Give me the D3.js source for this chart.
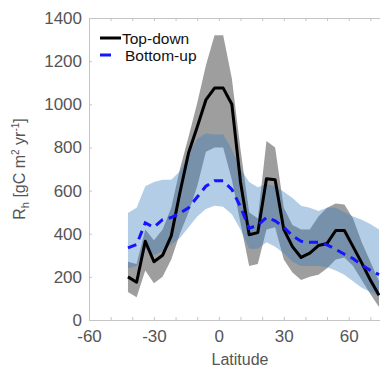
<!DOCTYPE html>
<html>
<head>
<meta charset="utf-8">
<script src="https://cdn.jsdelivr.net/npm/d3@7"></script>
<style>
  body { margin: 0; background: #fff; }
  svg { display: block; font-family: "Liberation Sans", Arial, sans-serif; }
  .axis path, .axis line { stroke: #c4c4c4; }
  .axis text { fill: #555; font-size: 17px; }
</style>
</head>
<body>
<div id="chart"></div>
<script>
// latitude bins (deg)
var lats = [-42, -38, -34, -30, -26, -22, -18, -14, -10, -6, -2, 2, 6, 10, 14,
            18, 22, 26, 30, 34, 38, 42, 46, 50, 54, 58, 62, 66, 70, 74];

// top-down Rh and its range
var topDown   = [200, 175, 365, 270, 300, 390, 590, 775, 895, 1020, 1075, 1075, 1000, 640, 395,
                 405, 655, 650, 420, 340, 290, 310, 345, 355, 415, 415, 340, 265, 185, 115];
var topDownLo = [130, 105, 230, 170, 200, 280, 400, 500, 620, 780, 800, 800, 650, 450, 250,
                 260, 420, 430, 280, 220, 185, 200, 210, 240, 280, 290, 250, 185, 120, 60];
var topDownHi = [270, 260, 420, 370, 420, 520, 700, 850, 1006, 1180, 1320, 1320, 1120, 790, 500,
                 470, 830, 800, 520, 440, 420, 420, 480, 520, 540, 535, 470, 360, 270, 180];

// bottom-up Rh and its range
var bottomUp   = [334, 350, 450, 430, 465, 475, 495, 520, 570, 620, 645, 645, 605, 525, 425,
                  440, 475, 460, 430, 390, 365, 360, 360, 348, 328, 305, 285, 255, 230, 210];
var bottomUpLo = [240, 250, 330, 300, 320, 350, 380, 430, 480, 515, 530, 525, 490, 420, 330,
                  330, 360, 340, 310, 270, 250, 250, 250, 245, 230, 210, 180, 150, 130, 110];
var bottomUpHi = [496, 520, 620, 640, 650, 650, 690, 770, 840, 865, 860, 860, 790, 700, 640,
                  615, 630, 620, 595, 565, 530, 520, 505, 520, 520, 500, 480, 465, 445, 420];

var xTicks = [-60, -50, -40, -30, -20, -10, 0, 10, 20, 30, 40, 50, 60, 70, 80];
var yTicks = [0, 200, 400, 600, 800, 1000, 1200, 1400];

var margin = {top: 18, left: 89},
    width = 303,
    height = 302;

var svg = d3.select("#chart")
  .append("svg")
    .attr("width", 380)
    .attr("height", 367)
  .append("g")
    .attr("transform", "translate(" + margin.left + "," + margin.top + ")");

var x = d3.scaleLinear().domain([-60, 80]).range([0, width]);
var y = d3.scaleLinear().domain([0, 1400]).range([height, 0]);

var rows = lats.map(function(d, i) {
  return {lat: d, td: topDown[i], tdLo: topDownLo[i], tdHi: topDownHi[i],
          bu: bottomUp[i], buLo: bottomUpLo[i], buHi: bottomUpHi[i]};
});

// bands
var band = function(lo, hi) {
  return d3.area()
    .x(function(d) { return x(d.lat); })
    .y0(function(d) { return y(d[lo]); })
    .y1(function(d) { return y(d[hi]); });
};
svg.append("path").datum(rows)
  .attr("d", band("tdLo", "tdHi"))
  .attr("fill", "#9e9e9e");
svg.append("path").datum(rows)
  .attr("d", band("buLo", "buHi"))
  .attr("fill", "rgb(55,124,189)")
  .attr("fill-opacity", 0.38);

// axes
svg.append("g")
  .attr("class", "axis")
  .call(d3.axisLeft(y).tickValues(yTicks).tickSize(-3).tickPadding(7).tickSizeOuter(0)
    .tickFormat(function(d) { return String(d); }));
svg.append("g")
  .attr("class", "axis")
  .attr("transform", "translate(0," + height + ")")
  .call(d3.axisBottom(x).tickValues(xTicks).tickSize(-3).tickPadding(10).tickSizeOuter(0)
    .tickFormat(function(d) { return d % 30 === 0 && d < 75 ? String(d) : ""; }));
svg.append("g")
  .attr("class", "axis")
  .call(d3.axisTop(x).tickValues(xTicks).tickSize(-3).tickSizeOuter(0).tickFormat(""));

// lines
var line = function(key) {
  return d3.line()
    .x(function(d) { return x(d.lat); })
    .y(function(d) { return y(d[key]); });
};
svg.append("path").datum(rows)
  .attr("d", line("td"))
  .attr("fill", "none")
  .attr("stroke", "#000")
  .attr("stroke-width", 3)
  .attr("stroke-linejoin", "round");
svg.append("path").datum(rows)
  .attr("d", line("bu"))
  .attr("fill", "none")
  .attr("stroke", "#1414ff")
  .attr("stroke-width", 3)
  .attr("stroke-dasharray", "9,6");

// legend
var legend = svg.append("g").attr("transform", "translate(11,20)");
legend.append("line")
  .attr("x1", 0).attr("x2", 21).attr("y1", 0).attr("y2", 0)
  .attr("stroke", "#000").attr("stroke-width", 3);
legend.append("text")
  .attr("x", 22).attr("y", 6)
  .attr("font-size", 15.5).attr("fill", "#111")
  .text("Top-down");
legend.append("line")
  .attr("x1", 0).attr("x2", 11).attr("y1", 17).attr("y2", 17)
  .attr("stroke", "#1414ff").attr("stroke-width", 3);
legend.append("text")
  .attr("x", 25).attr("y", 23)
  .attr("font-size", 15.5).attr("fill", "#111")
  .text("Bottom-up");

// axis titles
svg.append("text")
  .attr("x", 151).attr("y", 347)
  .attr("text-anchor", "middle")
  .attr("font-size", 16).attr("fill", "#555")
  .text("Latitude");

var yl = svg.append("text")
  .attr("transform", "translate(" + (25 - margin.left) + "," + (height / 2) + ") rotate(-90)")
  .attr("text-anchor", "middle")
  .attr("font-size", 16).attr("fill", "#555");
yl.append("tspan").text("R");
yl.append("tspan").attr("font-size", 11).attr("dy", 4).text("h");
yl.append("tspan").attr("dy", -4).text(" [gC m");
yl.append("tspan").attr("font-size", 10).attr("dy", -6).text("2");
yl.append("tspan").attr("dy", 6).text(" yr");
yl.append("tspan").attr("font-size", 10).attr("dy", -6).text("-1");
yl.append("tspan").attr("dy", 6).text("]");
</script>
</body>
</html>
